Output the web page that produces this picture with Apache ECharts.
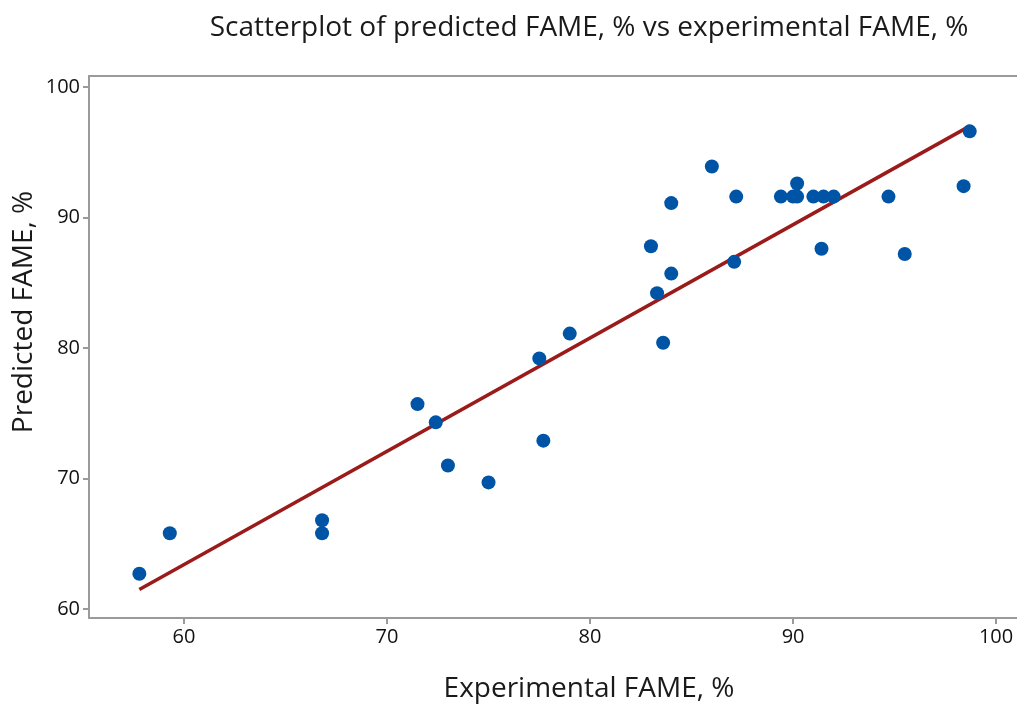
<!DOCTYPE html>
<html>
<head>
<meta charset="utf-8">
<script src="https://cdn.jsdelivr.net/npm/echarts@6/dist/echarts.min.js"></script>
<style>
  html, body { margin: 0; padding: 0; background: #fff; }
  #chart { width: 1017px; height: 705px; }
</style>
</head>
<body>
<div id="chart"></div>
<script>
// Experimental vs predicted FAME yield (%)
const experimental = [57.8, 59.3, 66.8, 66.8, 71.5, 72.4, 73.0, 75.0, 77.5, 77.7,
  79.0, 83.0, 83.3, 83.6, 84.0, 84.0, 86.0, 87.2, 87.1, 89.4,
  90.0, 90.2, 90.2, 91.0, 91.4, 91.5, 92.0, 94.7, 95.5, 98.4, 98.7];
const predicted = [62.7, 65.8, 66.8, 65.8, 75.7, 74.3, 71.0, 69.7, 79.2, 72.9,
  81.1, 87.8, 84.2, 80.4, 85.7, 91.1, 93.9, 91.6, 86.6, 91.6,
  91.6, 92.6, 91.6, 91.6, 87.6, 91.6, 91.6, 91.6, 87.2, 92.4, 96.6];
// Fitted line end points (experimental, predicted)
const fitX = [57.8, 98.7];
const fitY = [61.5, 97.0];
const tickValues = [60, 70, 80, 90, 100];

const points = experimental.map((x, i) => [x, predicted[i]]);
const fitLine = fitX.map((x, i) => [x, fitY[i]]);

const FONT = '"Open Sans", "Noto Sans", sans-serif';
const AXIS_COLOR = '#9a9a9a';
const X_MIN = 55.32, X_MAX = 101.03;

const chart = echarts.init(document.getElementById('chart'), null, { renderer: 'canvas' });
chart.setOption({
  animation: false,
  backgroundColor: '#ffffff',
  grid: { left: 89, top: 76, right: 0, bottom: 87, show: false },
  xAxis: [
    {
      type: 'value',
      min: X_MIN, max: X_MAX,
      splitLine: { show: false },
      axisLine: { show: true, onZero: false, lineStyle: { color: AXIS_COLOR, width: 2 } },
      axisTick: { show: true, length: 6, customValues: tickValues, lineStyle: { color: AXIS_COLOR, width: 2 } },
      axisLabel: { customValues: tickValues, color: '#111', fontSize: 20, fontFamily: FONT, margin: 9 }
    },
    {
      // top frame edge
      type: 'value', position: 'top',
      min: X_MIN, max: X_MAX,
      splitLine: { show: false },
      axisLine: { show: true, onZero: false, lineStyle: { color: AXIS_COLOR, width: 2 } },
      axisTick: { show: false },
      axisLabel: { show: false }
    }
  ],
  yAxis: {
    type: 'value',
    min: 59.31, max: 100.84,
    splitLine: { show: false },
    axisLine: { show: true, onZero: false, lineStyle: { color: AXIS_COLOR, width: 2 } },
    axisTick: { show: true, length: 6, customValues: tickValues, lineStyle: { color: AXIS_COLOR, width: 2 } },
    axisLabel: { customValues: tickValues, color: '#111', fontSize: 20, fontFamily: FONT, margin: 9 }
  },
  graphic: [
    { type: 'text', x: 589, y: 28, style: { text: 'Scatterplot of predicted FAME, % vs experimental FAME, %',
      fill: '#1a1a1a', font: 'normal 28px ' + FONT, textAlign: 'center', textVerticalAlign: 'middle' } },
    { type: 'text', x: 589, y: 689, style: { text: 'Experimental FAME, %',
      fill: '#1a1a1a', font: 'normal 28px ' + FONT, textAlign: 'center', textVerticalAlign: 'middle' } },
    { type: 'text', x: 24, y: 312, rotation: Math.PI / 2, style: { text: 'Predicted FAME, %',
      fill: '#1a1a1a', font: 'normal 28px ' + FONT, textAlign: 'center', textVerticalAlign: 'middle' } }
  ],
  series: [
    {
      type: 'line',
      data: fitLine,
      symbol: 'none',
      lineStyle: { color: '#9b1a1a', width: 3.5 },
      z: 2
    },
    {
      type: 'scatter',
      data: points,
      symbol: 'circle',
      symbolSize: 14,
      itemStyle: { color: '#0054a6', opacity: 1 },
      z: 3
    }
  ]
});
</script>
</body>
</html>
